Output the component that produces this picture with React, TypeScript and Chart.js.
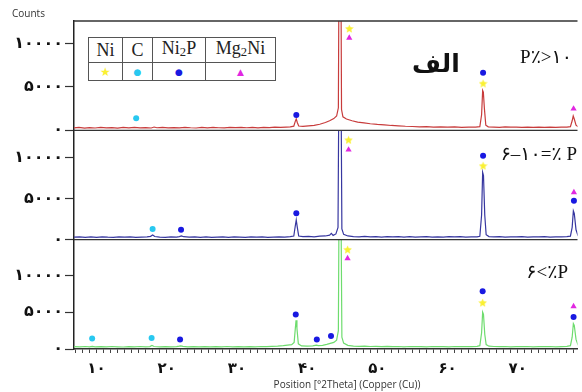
import React, { useEffect, useRef } from 'react';
import { Chart, registerables } from 'chart.js';

Chart.register(...registerables);

type Pt = [number, number];

// ---------- data ----------
const FA_DIGITS = ['۰', '۱', '۲', '۳', '۴', '۵', '۶', '۷', '۸', '۹'];
const xMajorTicks = [10, 20, 30, 40, 50, 60, 70];
const X_MIN = 6.795;
const X_MAX = 78.51;
const yTicks = [0, 5000, 10000];
const panelMax = { top: 12600, mid: 13300, bot: 14850 };

const xTitle = 'Position [°2Theta] (Copper (Cu))';
const yTitle = 'Counts';
const legendPhases = ['Ni', 'C', 'Ni2P', 'Mg2Ni'];
const panelLabels = ['P٪>۱۰', '۶–۱۰=٪ P', '۶<٪P'];
const bigLabel = 'الف';

// red trace (P% > 10)
const redTrace: Pt[] = [
  [6.8, 280], [7.5, 330], [8.3, 260], [9.0, 310], [9.8, 270], [10.6, 340], [11.4, 290], [12.2, 320],
  [13.0, 260], [13.8, 330], [14.6, 280], [15.4, 350], [16.2, 290], [17.0, 320], [17.8, 270], [18.2, 380],
  [18.6, 300], [19.4, 330], [20.2, 280], [21.0, 320], [21.8, 290], [22.6, 350], [23.4, 300], [24.2, 270],
  [25.0, 330], [25.8, 290], [26.6, 340], [27.4, 300], [28.2, 280], [29.0, 330], [29.8, 310], [30.6, 350],
  [31.4, 300], [32.2, 330], [33.0, 290], [33.8, 350], [34.6, 320], [35.4, 360], [36.2, 330], [37.0, 380],
  [37.6, 400], [38.1, 480], [38.3, 1000], [38.45, 1320], [38.6, 900], [38.8, 500], [39.4, 450], [40.2, 520],
  [41.0, 580], [41.8, 700], [42.6, 900], [43.2, 1100], [43.8, 1350], [44.2, 1650], [44.45, 2600],
  [44.6, 30000], [44.75, 30000], [44.9, 2400], [45.1, 1550], [45.6, 1300], [46.4, 1100], [47.2, 950],
  [48.1, 860], [49.0, 760], [50.0, 680], [51.0, 620], [52.0, 560], [53.0, 520], [54.0, 470], [55.0, 440],
  [56.0, 410], [57.0, 420], [58.0, 380], [59.0, 400], [60.0, 370], [61.0, 390], [62.0, 350], [63.0, 380],
  [64.0, 370], [64.6, 420], [64.85, 1800], [65.0, 4600], [65.1, 4400], [65.25, 2500], [65.45, 600],
  [65.8, 400], [66.6, 380], [67.4, 350], [68.2, 390], [69.0, 360], [69.8, 380], [70.6, 340], [71.4, 370],
  [72.2, 350], [73.0, 380], [73.8, 340], [74.6, 370], [75.4, 350], [76.2, 380], [77.0, 360], [77.5, 420],
  [77.75, 1100], [77.9, 1650], [78.05, 1300], [78.3, 600], [78.6, 400],
];

// blue trace (P% = 6-10)
const blueTrace: Pt[] = [
  [6.8, 300], [7.6, 340], [8.4, 280], [9.2, 330], [10.0, 290], [10.8, 350], [11.6, 300], [12.4, 270],
  [13.2, 330], [14.0, 300], [14.8, 350], [15.6, 290], [16.4, 320], [17.2, 350], [17.7, 400], [18.0, 560],
  [18.3, 380], [19.0, 320], [19.8, 290], [20.6, 340], [21.4, 310], [21.8, 380], [22.1, 450], [22.4, 360],
  [23.2, 300], [24.0, 340], [24.8, 290], [25.6, 330], [26.4, 280], [27.2, 320], [28.0, 350], [28.8, 290],
  [29.6, 330], [30.4, 300], [31.2, 270], [32.0, 330], [32.8, 300], [33.6, 340], [34.4, 290], [35.2, 320],
  [36.0, 350], [36.8, 310], [37.6, 380], [38.1, 450], [38.3, 1600], [38.45, 2400], [38.6, 1500],
  [38.8, 450], [39.4, 360], [40.2, 390], [41.0, 350], [41.8, 420], [42.6, 450], [43.2, 550], [43.45, 760],
  [43.7, 520], [44.1, 700], [44.4, 1500], [44.6, 30000], [44.75, 30000], [44.95, 1300], [45.2, 650],
  [45.8, 450], [46.6, 380], [47.4, 350], [48.2, 390], [49.0, 340], [49.8, 370], [50.6, 320], [51.4, 360],
  [52.2, 330], [53.0, 370], [53.8, 320], [54.6, 360], [55.4, 300], [56.2, 340], [57.0, 370], [57.8, 320],
  [58.6, 350], [59.4, 310], [60.2, 360], [61.0, 330], [61.8, 370], [62.6, 320], [63.4, 350], [64.2, 340],
  [64.6, 420], [64.85, 3000], [65.0, 8200], [65.12, 7800], [65.3, 3000], [65.5, 600], [65.9, 380],
  [66.6, 340], [67.4, 370], [68.2, 320], [69.0, 350], [69.8, 330], [70.6, 370], [71.4, 320], [72.2, 350],
  [73.0, 330], [73.8, 360], [74.6, 320], [75.4, 350], [76.2, 330], [77.0, 360], [77.5, 420], [77.75, 1500],
  [77.92, 3500], [78.05, 3200], [78.3, 1200], [78.6, 450],
];

// green trace (P% < 6)
const greenTrace: Pt[] = [
  [6.8, 320], [7.6, 280], [8.4, 340], [9.0, 300], [9.4, 360], [9.8, 290], [10.6, 320], [11.4, 280],
  [12.2, 340], [13.0, 300], [13.8, 270], [14.6, 330], [15.4, 300], [16.2, 340], [17.0, 290], [17.6, 330],
  [17.9, 480], [18.2, 340], [19.0, 300], [19.8, 330], [20.6, 280], [21.4, 320], [21.8, 380], [22.0, 430],
  [22.3, 350], [23.0, 300], [23.8, 330], [24.6, 290], [25.4, 320], [26.2, 280], [27.0, 330], [27.8, 300],
  [28.6, 340], [29.4, 290], [30.2, 320], [31.0, 280], [31.8, 330], [32.6, 300], [33.4, 340], [34.2, 310],
  [35.0, 350], [35.8, 380], [36.6, 450], [37.2, 520], [37.8, 600], [38.15, 900], [38.3, 2600],
  [38.42, 3900], [38.55, 2800], [38.75, 700], [39.2, 420], [40.0, 380], [40.8, 420], [41.3, 520],
  [41.6, 450], [42.2, 500], [42.8, 620], [43.3, 760], [43.8, 900], [44.2, 1200], [44.45, 2500],
  [44.6, 30000], [44.75, 30000], [44.95, 1600], [45.2, 800], [45.8, 500], [46.6, 400], [47.4, 360],
  [48.2, 380], [49.0, 340], [49.8, 360], [50.6, 320], [51.4, 350], [52.2, 310], [53.0, 340], [53.8, 300],
  [54.6, 340], [55.4, 310], [56.2, 330], [57.0, 300], [57.8, 340], [58.6, 310], [59.4, 330], [60.2, 300],
  [61.0, 340], [61.8, 310], [62.6, 330], [63.4, 320], [64.2, 360], [64.6, 450], [64.85, 2200], [65.0, 5000],
  [65.12, 4700], [65.3, 2000], [65.5, 600], [65.9, 380], [66.6, 340], [67.4, 310], [68.2, 340], [69.0, 300],
  [69.8, 330], [70.6, 310], [71.4, 340], [72.2, 300], [73.0, 330], [73.8, 310], [74.6, 340], [75.4, 300],
  [76.2, 330], [77.0, 360], [77.5, 450], [77.75, 1600], [77.92, 3450], [78.05, 3200], [78.3, 1300],
  [78.6, 500],
];

// phase markers, top panel
const topNi: Pt[] = [[46.0, 11740], [65.06, 5420]];
const topMg2Ni: Pt[] = [[46.0, 10650], [77.95, 2480]];
const topNi2P: Pt[] = [[38.46, 1780], [65.06, 6630]];
const topC: Pt[] = [[15.65, 1400]];
// middle panel
const midNi: Pt[] = [[45.9, 12150], [65.06, 9000]];
const midMg2Ni: Pt[] = [[45.9, 10940], [78.0, 5750]];
const midNi2P: Pt[] = [[22.04, 1215], [38.46, 3200], [65.06, 10200], [78.0, 4740]];
const midC: Pt[] = [[17.99, 1300]];
// bottom panel
const botNi: Pt[] = [[45.76, 13530], [65.0, 6300]];
const botMg2Ni: Pt[] = [[45.76, 12300], [77.95, 5790]];
const botNi2P: Pt[] = [[21.9, 1275], [38.38, 4670], [41.38, 1275], [43.4, 1760], [65.0, 7830], [77.95, 4340]];
const botC: Pt[] = [[9.38, 1410], [17.85, 1490]];

// ---------- styles ----------
const RED = 'rgb(200,60,60)';
const BLUE = 'rgb(55,55,160)';
const GREEN = 'rgb(110,220,110)';
const STAR = 'rgb(250,240,50)';
const CYAN = 'rgb(40,200,240)';
const DOT = 'rgb(25,25,225)';
const MAGENTA = 'rgb(225,40,225)';

const fa = (v: number) => String(v).replace(/\d/g, (d) => FA_DIGITS[+d]);

function makeStar(size: number, color: string) {
  const c = document.createElement('canvas');
  c.width = size;
  c.height = size;
  const g = c.getContext('2d')!;
  g.fillStyle = color;
  g.beginPath();
  const cx = size / 2, cy = size / 2 + 0.5, R = size / 2, r = R * 0.45;
  for (let i = 0; i < 10; i++) {
    const a = -Math.PI / 2 + (i * Math.PI) / 5;
    const rad = i % 2 === 0 ? R : r;
    g.lineTo(cx + rad * Math.cos(a), cy + rad * Math.sin(a));
  }
  g.closePath();
  g.fill();
  return c;
}

const toXY = (d: Pt[]) => d.map(([x, y]) => ({ x, y }));

const panelBorders = {
  id: 'panelBorders',
  afterDatasetsDraw(chart: any) {
    const { ctx, chartArea } = chart;
    ctx.save();
    ctx.strokeStyle = '#333';
    ctx.lineWidth = 1.4;
    for (const id of ['yTop', 'yMid', 'yBot']) {
      const s = chart.scales[id];
      ctx.beginPath();
      ctx.moveTo(chartArea.left, s.top);
      ctx.lineTo(chartArea.right, s.top);
      ctx.stroke();
    }
    ctx.restore();
  },
};

export default function App() {
  const ref = useRef<HTMLCanvasElement>(null);

  useEffect(() => {
    if (!ref.current) return;
    const star = makeStar(9, STAR);

    const line = (d: Pt[], color: string, axis: string) => ({
      data: toXY(d),
      showLine: true,
      borderColor: color,
      borderWidth: 1.2,
      pointRadius: 0,
      tension: 0,
      yAxisID: axis,
      order: 1,
      clip: 0,
    });
    const mark = (d: Pt[], style: any, color: string, radius: number, axis: string) => ({
      data: toXY(d),
      showLine: false,
      pointStyle: style,
      pointRadius: radius,
      pointBackgroundColor: color,
      pointBorderColor: color,
      pointBorderWidth: 0,
      yAxisID: axis,
      order: 0,
    });

    const yPanel = (max: number, weight: number) => ({
      type: 'linear',
      position: 'left',
      stack: 'panels',
      stackWeight: 1,
      weight,
      min: 0,
      max,
      border: { display: true, color: '#222', width: 1.5 },
      grid: { drawOnChartArea: false, drawTicks: true, tickLength: 9, tickColor: '#333', tickWidth: 1.2 },
      ticks: {
        autoSkip: false,
        padding: 2,
        color: '#111',
        font: { family: 'DejaVu Sans', size: 16, weight: 'bold' },
        callback: (v: number) => fa(v),
      },
      afterBuildTicks: (s: any) => {
        s.ticks = yTicks.map((value) => ({ value }));
      },
      afterFit: (s: any) => {
        s.width = 74;
      },
    });

    const chart = new Chart(ref.current, {
      type: 'scatter',
      data: {
        datasets: [
          mark(topNi, star, STAR, 4.5, 'yTop'),
          mark(topMg2Ni, 'triangle', MAGENTA, 3.6, 'yTop'),
          mark(topNi2P, 'circle', DOT, 3, 'yTop'),
          mark(topC, 'circle', CYAN, 3, 'yTop'),
          mark(midNi, star, STAR, 4.5, 'yMid'),
          mark(midMg2Ni, 'triangle', MAGENTA, 3.6, 'yMid'),
          mark(midNi2P, 'circle', DOT, 3, 'yMid'),
          mark(midC, 'circle', CYAN, 3, 'yMid'),
          mark(botNi, star, STAR, 4.5, 'yBot'),
          mark(botMg2Ni, 'triangle', MAGENTA, 3.6, 'yBot'),
          mark(botNi2P, 'circle', DOT, 3, 'yBot'),
          mark(botC, 'circle', CYAN, 3, 'yBot'),
          line(redTrace, RED, 'yTop'),
          line(blueTrace, BLUE, 'yMid'),
          line(greenTrace, GREEN, 'yBot'),
        ] as any,
      },
      options: {
        animation: false,
        responsive: false,
        maintainAspectRatio: false,
        devicePixelRatio: 1,
        layout: { padding: { top: 21, left: 0, right: 0, bottom: 0 } },
        plugins: { legend: { display: false }, tooltip: { enabled: false } },
        events: [],
        scales: {
          x: {
            type: 'linear',
            min: X_MIN,
            max: X_MAX,
            border: { display: true, color: '#333', width: 1.5 },
            grid: { drawOnChartArea: false, drawTicks: true, tickLength: 4, tickColor: '#444', tickWidth: 1 },
            ticks: {
              stepSize: 1,
              autoSkip: false,
              maxRotation: 0,
              includeBounds: false,
              padding: 7,
              color: '#111',
              font: { family: 'DejaVu Sans', size: 15, weight: 'bold' },
              callback: (v: number) => (xMajorTicks.includes(v) ? fa(v) : ''),
            },
            afterFit: (s: any) => {
              s.height = 43;
            },
          },
          yBot: yPanel(panelMax.bot, 1),
          yMid: yPanel(panelMax.mid, 2),
          yTop: yPanel(panelMax.top, 3),
        } as any,
      },
      plugins: [panelBorders],
    });
    return () => chart.destroy();
  }, []);

  const abs: React.CSSProperties = { position: 'absolute', lineHeight: 1, whiteSpace: 'nowrap' };
  const pLabel: React.CSSProperties = {
    ...abs,
    fontFamily: '"Liberation Serif", "DejaVu Sans", serif',
    fontSize: 19,
    color: '#111',
    direction: 'ltr',
    unicodeBidi: 'bidi-override',
  };
  const cell: React.CSSProperties = { border: '1px solid #555', padding: 0, textAlign: 'center' };
  const sub = (s: string) => {
    const m = s.match(/^([A-Za-z]+)(\d)([A-Za-z]*)$/);
    if (!m) return s;
    return (
      <>
        {m[1]}
        <span style={{ fontSize: '0.7em', verticalAlign: '-0.18em' }}>{m[2]}</span>
        {m[3]}
      </>
    );
  };
  const symbols = [
    { ch: '★', color: STAR, size: 12 },
    { ch: '●', color: CYAN, size: 9 },
    { ch: '●', color: DOT, size: 9 },
    { ch: '▲', color: MAGENTA, size: 9 },
  ];
  const colW = [34, 30, 53, 70];

  return (
    <div style={{ position: 'absolute', left: 0, top: 0, width: 582, height: 392, background: '#fff', overflow: 'hidden' }}>
      <canvas ref={ref} width={582} height={392} style={{ position: 'absolute', left: 0, top: 0 }} />
      <div style={{ ...abs, left: 12, top: 8, fontFamily: '"Open Sans", sans-serif', fontSize: 10, color: '#333' }}>{yTitle}</div>
      <div style={{ ...abs, left: 247, width: 200, textAlign: 'center', top: 379, fontFamily: '"Open Sans", sans-serif', fontSize: 10, color: '#333' }}>
        {xTitle}
      </div>
      <div dir="rtl" style={{ ...abs, left: 412, top: 51, fontFamily: '"DejaVu Sans", sans-serif', fontWeight: 'bold', fontSize: 25, color: '#111' }}>
        {bigLabel}
      </div>
      <div style={{ ...pLabel, right: 10, top: 47 }}>{panelLabels[0]}</div>
      <div style={{ ...pLabel, right: 5, top: 144 }}>{panelLabels[1]}</div>
      <div style={{ ...pLabel, right: 14, top: 262 }}>{panelLabels[2]}</div>
      <table
        style={{
          position: 'absolute',
          left: 88,
          top: 37,
          borderCollapse: 'collapse',
          tableLayout: 'fixed',
          background: '#fff',
          fontFamily: '"Liberation Serif", serif',
          fontSize: 18,
          color: '#222',
        }}
      >
        <colgroup>
          {colW.map((w, i) => (
            <col key={i} style={{ width: w }} />
          ))}
        </colgroup>
        <tbody>
          <tr style={{ height: 23 }}>
            {legendPhases.map((p) => (
              <td key={p} style={{ ...cell, lineHeight: '20px' }}>
                {sub(p)}
              </td>
            ))}
          </tr>
          <tr style={{ height: 18 }}>
            {symbols.map((s, i) => (
              <td key={i} style={{ ...cell, lineHeight: '16px', fontFamily: '"DejaVu Sans", sans-serif', fontSize: s.size, color: s.color }}>
                {s.ch}
              </td>
            ))}
          </tr>
        </tbody>
      </table>
    </div>
  );
}
